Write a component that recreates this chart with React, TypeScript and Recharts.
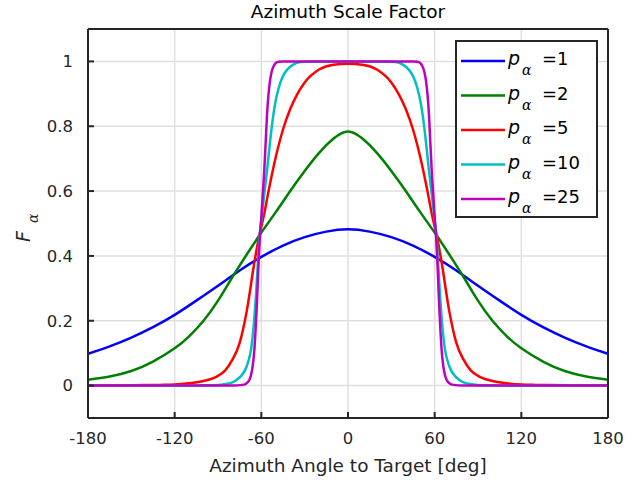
import { CartesianGrid, Legend, Line, LineChart, XAxis, YAxis } from "recharts";

// p_alpha = 1
const anglesP1 = [-180, -165, -150, -135, -120, -105, -90, -75, -60, -45, -30, -15, 0, 15, 30, 45, 60, 75, 90, 105, 120, 135, 150, 165, 180];
const valuesP1 = [0.098, 0.121, 0.148, 0.18, 0.218, 0.262, 0.308, 0.355, 0.397, 0.432, 0.458, 0.475, 0.482, 0.475, 0.458, 0.432, 0.397, 0.355, 0.308, 0.262, 0.218, 0.18, 0.148, 0.121, 0.098];

// p_alpha = 2
const anglesP2 = [-180, -165, -150, -135, -120, -110, -100, -90, -80, -70, -60, -50, -40, -30, -20, -10, 0, 10, 20, 30, 40, 50, 60, 70, 80, 90, 100, 110, 120, 135, 150, 165, 180];
const valuesP2 = [0.018, 0.028, 0.045, 0.074, 0.115, 0.152, 0.2, 0.262, 0.335, 0.405, 0.472, 0.535, 0.6, 0.662, 0.718, 0.762, 0.784, 0.762, 0.718, 0.662, 0.6, 0.535, 0.472, 0.405, 0.335, 0.262, 0.2, 0.152, 0.115, 0.074, 0.045, 0.028, 0.018];

// p_alpha = 5
const anglesP5 = [-180, -150, -130, -120, -110, -100, -90, -85, -80, -75, -70, -65, -62, -60, -58, -55, -50, -45, -40, -35, -30, -20, -10, 0, 10, 20, 30, 35, 40, 45, 50, 55, 58, 60, 62, 65, 70, 75, 80, 85, 90, 100, 110, 120, 130, 150, 180];
const valuesP5 = [0, 0.001, 0.002, 0.003, 0.007, 0.014, 0.03, 0.047, 0.08, 0.132, 0.232, 0.375, 0.45, 0.49, 0.53, 0.6, 0.705, 0.79, 0.853, 0.9, 0.935, 0.975, 0.99, 0.993, 0.99, 0.975, 0.935, 0.9, 0.853, 0.79, 0.705, 0.6, 0.53, 0.49, 0.45, 0.375, 0.232, 0.132, 0.08, 0.047, 0.03, 0.014, 0.007, 0.003, 0.002, 0.001, 0];

// p_alpha = 10
const anglesP10 = [-180, -120, -100, -90, -85, -80, -77, -74, -71, -69, -67, -65, -63, -62, -61, -60, -59, -58, -56, -54, -52, -50, -48, -45, -42, -38, -33, -25, 0, 25, 33, 38, 42, 45, 48, 50, 52, 54, 56, 58, 59, 60, 61, 62, 63, 65, 67, 69, 71, 74, 77, 80, 85, 90, 100, 120, 180];
const valuesP10 = [0, 0, 0.001, 0.002, 0.005, 0.01, 0.018, 0.03, 0.05, 0.075, 0.115, 0.2, 0.33, 0.41, 0.47, 0.51, 0.55, 0.59, 0.665, 0.75, 0.825, 0.88, 0.918, 0.955, 0.975, 0.99, 0.998, 1, 1, 1, 0.998, 0.99, 0.975, 0.955, 0.918, 0.88, 0.825, 0.75, 0.665, 0.59, 0.55, 0.51, 0.47, 0.41, 0.33, 0.2, 0.115, 0.075, 0.05, 0.03, 0.018, 0.01, 0.005, 0.002, 0.001, 0, 0];

// p_alpha = 25
const anglesP25 = [-180, -80, -72, -70, -68, -67, -66, -65, -64, -63, -62, -61, -60, -59, -58, -57, -56, -55, -54, -53, -52, -50, -48, -45, 0, 45, 48, 50, 52, 53, 54, 55, 56, 57, 58, 59, 60, 61, 62, 63, 64, 65, 66, 67, 68, 70, 72, 80, 180];
const valuesP25 = [0, 0, 0.003, 0.008, 0.02, 0.035, 0.06, 0.1, 0.17, 0.26, 0.37, 0.46, 0.52, 0.59, 0.66, 0.75, 0.84, 0.9, 0.94, 0.965, 0.98, 0.995, 0.999, 1, 1, 1, 0.999, 0.995, 0.98, 0.965, 0.94, 0.9, 0.84, 0.75, 0.66, 0.59, 0.52, 0.46, 0.37, 0.26, 0.17, 0.1, 0.06, 0.035, 0.02, 0.008, 0.003, 0, 0];

const xTicks = [-180, -120, -60, 0, 60, 120, 180];
const yTicks = [0, 0.2, 0.4, 0.6, 0.8, 1];

const toPoints = (xs: number[], ys: number[]) => xs.map((x, i) => ({ x, y: ys[i] }));

// smooth, wide curves get a natural spline; the steep ones stay monotone
const series = [
  { p: 1, color: "#0000ff", curve: "natural", data: toPoints(anglesP1, valuesP1) },
  { p: 2, color: "#008000", curve: "natural", data: toPoints(anglesP2, valuesP2) },
  { p: 5, color: "#ff0000", curve: "monotone", data: toPoints(anglesP5, valuesP5) },
  { p: 10, color: "#00bfbf", curve: "monotone", data: toPoints(anglesP10, valuesP10) },
  { p: 25, color: "#bf00bf", curve: "monotone", data: toPoints(anglesP25, valuesP25) },
];

const FONT = "'DejaVu Sans', sans-serif";
const AXIS = "#262626";
const frame = { stroke: AXIS, strokeWidth: 2 };

const LegendBox = () => (
  <svg width={143} height={178} style={{ display: "block" }}>
    <rect x={1} y={1} width={141} height={176} fill="#fff" stroke={AXIS} strokeWidth={2} />
    {series.map((s, i) => {
      const y = 21 + i * 34.5;
      return (
        <g key={s.p} fontFamily={FONT}>
          <line x1={6} x2={50} y1={y} y2={y} stroke={s.color} strokeWidth={2.5} />
          <text x={53} y={y + 4} fontSize={19} fontStyle="italic" fill="#000">p</text>
          <text x={67} y={y + 14} fontSize={14} fontStyle="italic" fontFamily="'DejaVu Serif', serif" fill="#000">α</text>
          <text x={87} y={y + 4} fontSize={18} fill="#000">={s.p}</text>
        </g>
      );
    })}
  </svg>
);

const YLabel = () => (
  <text x={30} y={242} transform="rotate(-90, 30, 242)" fill={AXIS} fontFamily={FONT} fontSize={19}>
    <tspan fontStyle="italic">F</tspan>
    <tspan fontSize={14} fontStyle="italic" fontFamily="'DejaVu Serif', serif" dx={8} dy={8}>α</tspan>
  </text>
);

const App = () => {
  return (
    <div style={{ position: "absolute", left: 0, top: 0, width: 644, height: 482, background: "#fff", fontFamily: FONT }}>
      <div style={{ position: "absolute", left: 0, top: 0, width: 696, lineHeight: "24px", textAlign: "center", fontSize: 18.5, color: "#000" }}>
        Azimuth Scale Factor
      </div>
      <LineChart width={644} height={482} margin={{ top: 28, right: 35, left: 0, bottom: 0 }}>
        <CartesianGrid stroke="#dfdfdf" strokeWidth={1.5} horizontalValues={yTicks} verticalValues={xTicks} />
        <XAxis
          dataKey="x"
          type="number"
          domain={[-180, 180]}
          ticks={xTicks}
          allowDataOverflow
          height={64}
          axisLine={frame}
          tickLine={frame}
          tickSize={-6}
          tickMargin={20}
          tick={{ fill: AXIS, fontSize: 16.5, fontFamily: FONT }}
          label={{ value: "Azimuth Angle to Target [deg]", position: "insideBottom", offset: 10, fill: AXIS, fontSize: 18.5, fontFamily: FONT }}
        />
        <XAxis
          xAxisId="top"
          orientation="top"
          dataKey="x"
          type="number"
          domain={[-180, 180]}
          ticks={xTicks}
          allowDataOverflow
          height={1}
          axisLine={frame}
          tickLine={frame}
          tickSize={-6}
          tick={false}
        />
        <YAxis
          type="number"
          domain={[-0.1, 1.1]}
          ticks={yTicks}
          allowDataOverflow
          width={88}
          axisLine={frame}
          tickLine={frame}
          tickSize={-6}
          tickMargin={21}
          tick={{ fill: AXIS, fontSize: 16.5, fontFamily: FONT }}
          label={<YLabel />}
        />
        <YAxis
          yAxisId="right"
          orientation="right"
          type="number"
          domain={[-0.1, 1.1]}
          ticks={yTicks}
          allowDataOverflow
          width={1}
          axisLine={frame}
          tickLine={frame}
          tickSize={-6}
          tick={false}
        />
        {series.map((s) => (
          <Line
            key={s.p}
            data={s.data}
            dataKey="y"
            name={String(s.p)}
            type={s.curve as "natural" | "monotone"}
            stroke={s.color}
            strokeWidth={2.5}
            dot={false}
            activeDot={false}
            isAnimationActive={false}
          />
        ))}
        <Legend
          layout="horizontal"
          align="center"
          verticalAlign="middle"
          content={<LegendBox />}
          wrapperStyle={{ left: 455, top: 40, width: 143, height: 178 }}
        />
      </LineChart>
    </div>
  );
};

export default App;
